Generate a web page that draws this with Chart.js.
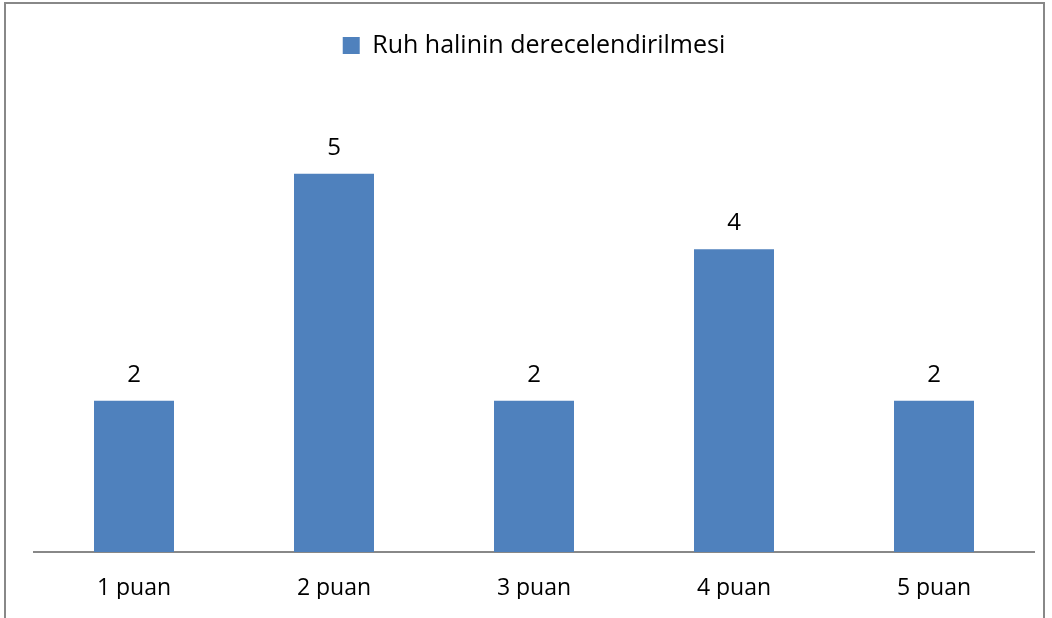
<!DOCTYPE html>
<html>
<head>
<meta charset="utf-8">
<script src="https://cdn.jsdelivr.net/npm/chart.js@4.4.1/dist/chart.umd.min.js"></script>
<style>
    html, body { margin: 0; padding: 0; background: #fff; overflow: hidden; }
    #wrap { position: relative; width: 1052px; height: 618px; }
    #frame { position: absolute; left: 4px; top: 2px; width: 1041px; height: 700px; border: 2px solid #888; box-sizing: border-box; pointer-events: none; }
</style>
</head>
<body>
<div id="wrap">
    <canvas id="moodChart" width="1052" height="618"></canvas>
    <div id="frame"></div>
</div>
<script>
const categories = ['1 puan', '2 puan', '3 puan', '4 puan', '5 puan'];
const seriesName = 'Ruh halinin derecelendirilmesi';
const values = [2, 5, 2, 4, 2];
const FONT = '"Open Sans", Lato, sans-serif';

// pushes the plot down below the legend
const legendGap = {
    id: 'legendGap',
    beforeInit(chart) {
        const fit = chart.legend.fit;
        chart.legend.fit = function () {
            fit.bind(chart.legend)();
            this.height += 30;
        };
    }
};

// value labels above the bars
const barLabels = {
    id: 'barLabels',
    afterDatasetsDraw(chart) {
        const ctx = chart.ctx;
        const meta = chart.getDatasetMeta(0);
        ctx.save();
        ctx.font = '24px ' + FONT;
        ctx.fillStyle = '#000';
        ctx.textAlign = 'center';
        ctx.textBaseline = 'middle';
        meta.data.forEach((bar, i) => {
            ctx.fillText(values[i], bar.x, bar.y - 26);
        });
        ctx.restore();
    }
};

const ctx = document.getElementById('moodChart').getContext('2d');
new Chart(ctx, {
    type: 'bar',
    data: {
        labels: categories,
        datasets: [{
            label: seriesName,
            data: values,
            backgroundColor: '#4F81BD',
            borderWidth: 0,
            categoryPercentage: 1,
            barPercentage: 0.4
        }]
    },
    options: {
        responsive: false,
        animation: false,
        layout: {
            padding: { left: 34, right: 18, top: 23, bottom: 19 }
        },
        scales: {
            x: {
                grid: { display: false, drawTicks: false },
                border: { display: true, color: '#888', width: 2 },
                ticks: {
                    color: '#000',
                    font: { family: FONT, size: 23 },
                    padding: 23
                },
                afterFit(scale) {
                    scale.height = 47;
                }
            },
            y: {
                display: false,
                min: 0,
                max: 6
            }
        },
        plugins: {
            legend: {
                position: 'top',
                labels: {
                    color: '#000',
                    font: { family: FONT, size: 25 },
                    boxWidth: 17,
                    boxHeight: 17,
                    padding: 10
                }
            },
            tooltip: { enabled: false }
        }
    },
    plugins: [legendGap, barLabels]
});
</script>
</body>
</html>
